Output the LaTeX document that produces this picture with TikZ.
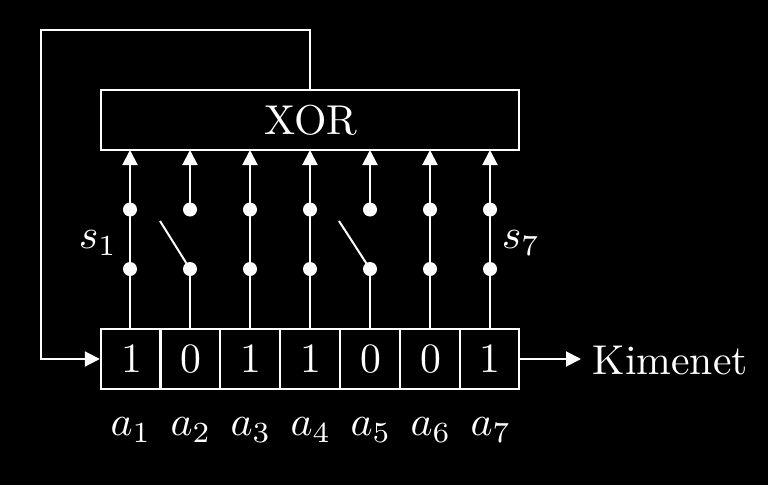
\documentclass[tikz,border=0pt]{standalone}
\usepackage{graphicx}
\usetikzlibrary{arrows.meta}
\newcommand{\bigtxt}[1]{\scalebox{4.17}{#1}}
\begin{document}
\begin{tikzpicture}[x=1pt,y=-1pt,
  wire/.style={draw=white,line width=2pt},
  arrowwire/.style={wire,-{Triangle[length=15pt,width=15pt]}},
  dotnode/.style={circle,fill=white,inner sep=0pt,minimum size=14pt},
  cellbox/.style={draw=white,line width=2pt,minimum width=59.6pt,minimum height=60pt,inner sep=0pt,text=white},
  lab/.style={text=white,inner sep=0pt}]
\fill[black] (0,0) rectangle (768,485);
\useasboundingbox (0,0) rectangle (768,485);
\node[draw=white,line width=2pt,minimum width=418.4pt,minimum height=60pt,inner sep=0pt,text=white] (xor) at (310,120) {\hspace{2pt}\bigtxt{XOR}};
\foreach \i/\x/\v in {1/130.6/1,2/190.3/0,3/250/1,4/310/1,5/370/0,6/429.7/0,7/489.4/1}{
  \node[cellbox] (c\i) at (\x,359) {\hspace{2pt}\bigtxt{\v}};
}
\foreach \i/\x in {1/130,2/190,3/250,4/310,5/370,6/430,7/490}{
  \node[dotnode] (t\i) at (\x,209.5) {};
  \node[dotnode] (b\i) at (\x,269) {};
  \coordinate (x\i) at (\x,150);
  \coordinate (f\i) at (\x,329);
  \node[lab] (a\i) at (\x+1,430) {\bigtxt{$a_{\i}$}};
  \draw[wire] (f\i) -- (b\i.center);
  \draw[arrowwire] (t\i.center) -- (x\i);
}
\foreach \i in {1,3,4,6,7}{\draw[wire] (b\i.center) -- (t\i.center);}
\coordinate (o2) at (160,221);
\coordinate (o5) at (339,221);
\draw[wire] (b2.center) -- (o2);
\draw[wire] (b5.center) -- (o5);
\node[lab] (s1) at (98,243) {\bigtxt{$s_1$}};
\node[lab] (s7) at (521,243) {\bigtxt{$s_7$}};
\node[lab,anchor=west] (out) at (592.5,360) {\bigtxt{Kimenet}};
\coordinate (e7) at (581,359);
\draw[arrowwire] (c7.east) -- (e7);
\coordinate (n1) at (310,30);
\coordinate (n2) at (41,30);
\coordinate (n3) at (41,359);
\draw[arrowwire] (xor.north) -- (n1) -- (n2) -- (n3) -- (c1.west);
\end{tikzpicture}
\end{document}
